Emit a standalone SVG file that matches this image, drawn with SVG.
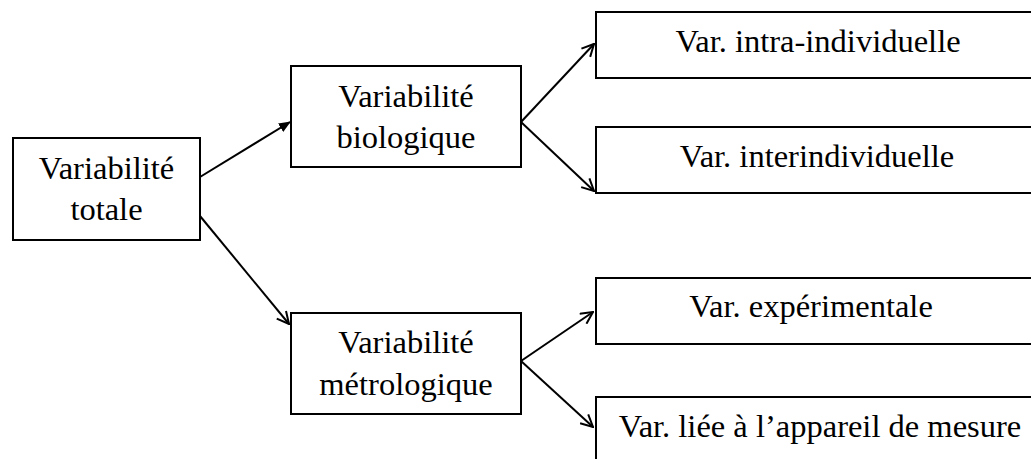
<svg xmlns="http://www.w3.org/2000/svg" width="1031" height="459" viewBox="0 0 1031 459">
<style>
.box{fill:#fff;stroke:#000;stroke-width:2}
.t{font-family:"Liberation Serif","Times New Roman",serif;font-size:32.5px;fill:#000;text-anchor:middle}
.c{stroke:#000;stroke-width:2;fill:none}
</style>
<defs>
<marker id="filled" viewBox="0 0 12 10" refX="11" refY="5" markerWidth="12" markerHeight="10" markerUnits="userSpaceOnUse" orient="auto">
<path d="M0,0 L12,5 L0,10 Z" fill="#000"/>
</marker>
<marker id="open" viewBox="0 0 14 14" refX="13" refY="7" markerWidth="14" markerHeight="14" markerUnits="userSpaceOnUse" orient="auto">
<path d="M1,1 L13,7 L1,13" fill="none" stroke="#000" stroke-width="2"/>
</marker>
</defs>
<g id="n-totale"><rect class="box" x="13" y="138" width="187" height="102"/><text class="t" x="106.5" y="179">Variabilité</text><text class="t" x="106.5" y="220">totale</text></g>
<g id="n-bio"><rect class="box" x="291" y="66" width="230" height="101"/><text class="t" x="406" y="107">Variabilité</text><text class="t" x="406" y="148">biologique</text></g>
<g id="n-metro"><rect class="box" x="291" y="313" width="230" height="101"/><text class="t" x="406" y="353">Variabilité</text><text class="t" x="406" y="395">métrologique</text></g>
<g id="n-intra"><rect class="box" x="596" y="12" width="450" height="66"/><text class="t" x="818" y="52">Var. intra-individuelle</text></g>
<g id="n-inter"><rect class="box" x="596" y="127" width="450" height="66"/><text class="t" x="817" y="167">Var. interindividuelle</text></g>
<g id="n-exp"><rect class="box" x="596" y="278" width="450" height="66"/><text class="t" x="811" y="317">Var. expérimentale</text></g>
<g id="n-app"><rect class="box" x="596" y="397" width="450" height="80"/><text class="t" x="820" y="437">Var. liée à l’appareil de mesure</text></g>
<g id="connectors">
<line class="c" x1="200" y1="177" x2="290" y2="122" marker-end="url(#filled)"/>
<line class="c" x1="200" y1="216" x2="289" y2="324" marker-end="url(#open)"/>
<line class="c" x1="521" y1="122" x2="594" y2="44" marker-end="url(#open)"/>
<line class="c" x1="521" y1="122" x2="594" y2="191" marker-end="url(#open)"/>
<line class="c" x1="521" y1="361" x2="593" y2="312" marker-end="url(#open)"/>
<line class="c" x1="521" y1="361" x2="593" y2="427" marker-end="url(#open)"/>
</g>
</svg>
